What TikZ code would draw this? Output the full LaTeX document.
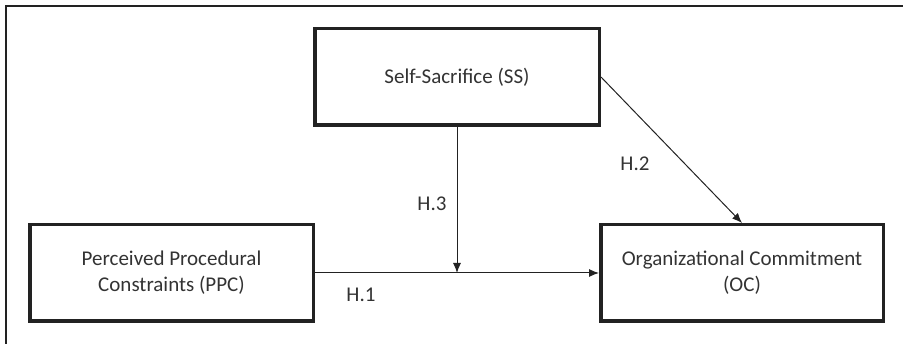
\documentclass[tikz,border=0pt]{standalone}
\usepackage{fontspec}
\setmainfont{Carlito}
\usetikzlibrary{arrows.meta}

\definecolor{inkgray}{HTML}{222222}
\definecolor{textgray}{HTML}{333333}

\def \boxLine {3.5pt}

\tikzset{
  varbox/.style={draw=inkgray, line width=\boxLine, minimum height=96.5pt,
    align=center, text=textgray, inner sep=0pt,
    font=\fontsize{21}{26}\selectfont},
  hyp/.style={text=textgray, inner sep=0pt, font=\fontsize{21}{26}\selectfont},
  link/.style={->, >={Latex[length=10pt,width=8pt]}, line width=1pt, draw=inkgray}
}

\begin{document}
\begin{tikzpicture}[x=1pt, y=-1pt]
      \useasboundingbox (0,0) rectangle (903,344);
      % outer frame (cut at right and bottom)
      \draw[line width=2pt, inkgray] (6,344) -- (6,6) -- (903,6);
      \node[varbox, minimum width=284.5pt] (ss) at (457,77) {Self-Sacrifice (SS)};
      \node[varbox, minimum width=283.5pt] (ppc) at (171.5,273) {Perceived Procedural\\Constraints (PPC)};
      \node[varbox, minimum width=282.5pt] (oc) at (742,273) {Organizational Commitment\\(OC)};
      \coordinate (join) at (ss.south |- ppc.east);
      \draw[link] (ppc.east) -- (oc.west);
      \draw[link] (ss.south) -- (join);
      \draw[link] (ss.east) -- (oc.north);
      \node[hyp] (h1) at (361,295) {H.1};
      \node[hyp] (h2) at (635,164) {H.2};
      \node[hyp] (h3) at (432,204) {H.3};
   \end{tikzpicture}
\end{document}
